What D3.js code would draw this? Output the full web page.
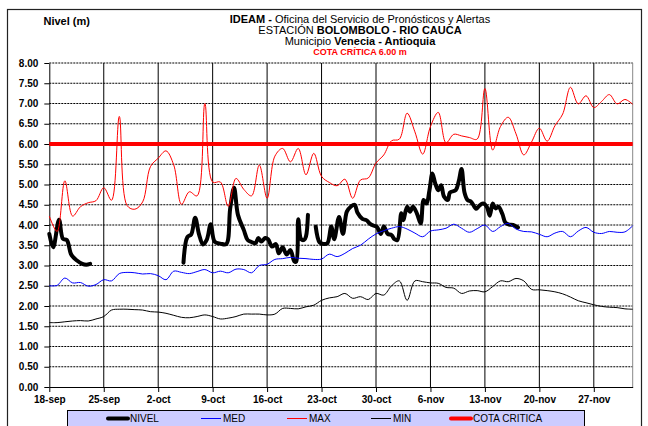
<!DOCTYPE html>
<html>
<head>
<meta charset="utf-8">
<script src="https://cdn.jsdelivr.net/npm/d3@7"></script>
<style>
  body { margin: 0; background: #fff; }
  svg { display: block; font-family: 'Liberation Sans', Arial, sans-serif; }
</style>
</head>
<body>
<script>
// daily series, one value per day starting at fechaInicio
let fechaInicio = '2011-09-18'
let fechaFin = '2011-12-02'

let maxValores = [
  4.22, 3.84, 5.09, 4.22, 4.45, 4.55, 4.60, 4.92, 4.61, 6.68,
  4.48, 4.39, 4.57, 5.44, 5.65, 5.83, 5.48, 4.51, 4.82, 4.72,
  7.00, 5.06, 5.06, 4.46, 5.15, 4.88, 4.72, 5.48, 4.66, 5.70,
  5.89, 5.56, 5.89, 5.24, 5.77, 5.20, 5.05, 4.97, 5.13, 4.66,
  5.11, 5.16, 5.53, 5.73, 6.08, 6.12, 6.76, 6.30, 5.75, 6.43,
  6.78, 6.03, 6.24, 6.20, 6.16, 6.12, 7.37, 5.85, 6.43, 6.66,
  6.25, 5.73, 6.05, 6.39, 6.07, 6.45, 6.74, 7.40, 6.99, 7.19,
  6.90, 7.05, 7.22, 6.99, 7.10, 6.98
]

let medValores = [
  2.50, 2.51, 2.69, 2.57, 2.58, 2.49, 2.53, 2.65, 2.62, 2.80,
  2.83, 2.82, 2.79, 2.80, 2.75, 2.65, 2.86, 2.83, 2.80, 2.85,
  2.90, 2.82, 2.86, 2.82, 2.91, 2.90, 2.82, 3.00, 3.03, 3.15,
  3.17, 3.20, 3.18, 3.17, 3.15, 3.16, 3.28, 3.22, 3.30, 3.42,
  3.50, 3.65, 3.78, 3.86, 3.92, 3.96, 3.90, 3.80, 3.71, 3.85,
  3.88, 3.92, 4.02, 3.92, 3.82, 3.91, 4.00, 3.84, 3.96, 4.04,
  3.90, 3.84, 3.83, 3.77, 3.71, 3.80, 3.84, 3.71, 3.85, 3.94,
  3.82, 3.79, 3.84, 3.82, 3.83, 3.98
]

let minValores = [
  1.59, 1.59, 1.61, 1.63, 1.64, 1.63, 1.68, 1.74, 1.90, 1.92,
  1.92, 1.91, 1.90, 1.86, 1.85, 1.82, 1.77, 1.72, 1.71, 1.74,
  1.78, 1.74, 1.68, 1.70, 1.74, 1.80, 1.80, 1.80, 1.78, 1.80,
  1.94, 1.94, 1.93, 1.98, 2.02, 2.14, 2.20, 2.23, 2.31, 2.19,
  2.23, 2.16, 2.31, 2.27, 2.50, 2.62, 2.14, 2.62, 2.60, 2.57,
  2.56, 2.46, 2.44, 2.31, 2.37, 2.38, 2.35, 2.48, 2.62, 2.60,
  2.68, 2.62, 2.41, 2.40, 2.38, 2.35, 2.30, 2.22, 2.13, 2.08,
  2.03, 1.99, 1.97, 1.96, 1.93, 1.92
]

// NIVEL readings ('mm-dd hh'), null marks a gap
let nivelFechas = [
  '09-18 00', '09-18 12', '09-19 06', '09-19 18', '09-20 06', '09-20 18',
  '09-21 00', '09-21 12', '09-22 06', '09-22 18', '09-23 06', '09-30 00',
  '10-05 06', '10-05 18', '10-06 06', '10-06 18', '10-07 06', '10-07 18',
  '10-08 06', '10-08 18', '10-09 06', '10-10 00', '10-10 18', '10-11 06',
  '10-11 18', '10-12 06', '10-13 00', '10-13 12', '10-14 00', '10-14 12',
  '10-14 21', '10-15 06', '10-15 18', '10-16 03', '10-16 15', '10-17 03',
  '10-17 12', '10-18 00', '10-18 12', '10-19 00', '10-19 12', '10-19 18',
  '10-20 00', '10-20 09', '10-20 18', '10-21 00', '10-21 06', '10-21 18',
  '10-22 06', '10-22 18', '10-23 06', '10-23 18', '10-24 06', '10-24 15',
  '10-25 06', '10-25 18', '10-26 06', '10-26 18', '10-27 06', '10-27 15',
  '10-28 06', '10-28 18', '10-29 06', '10-29 18', '10-30 03', '10-30 15',
  '10-31 00', '10-31 12', '11-01 00', '11-01 09', '11-01 18', '11-02 06',
  '11-02 12', '11-03 00', '11-03 09', '11-03 18', '11-04 06', '11-04 18',
  '11-05 03', '11-05 12', '11-05 21', '11-06 06', '11-06 15', '11-07 00',
  '11-07 09', '11-07 18', '11-08 06', '11-08 12', '11-09 06', '11-09 15',
  '11-10 00', '11-10 09', '11-10 18', '11-11 06', '11-11 21', '11-12 06',
  '11-12 18', '11-13 06', '11-13 15', '11-14 00', '11-14 09', '11-14 18',
  '11-15 06', '11-15 15', '11-16 03', '11-16 15', '11-17 06'
]
let nivelValores = [
  3.78, 3.45, 4.13, 3.66, 3.63, 3.30,
  3.22, 3.13, 3.04, 3.02, 3.04, null,
  3.07, 3.70, 3.77, 4.18, 3.77, 3.52,
  3.64, 4.02, 3.59, 3.54, 3.53, 4.40,
  4.92, 4.25, 3.88, 3.63, 3.58, 3.55,
  3.68, 3.59, 3.68, 3.65, 3.47, 3.53,
  3.30, 3.45, 3.27, 3.38, 3.10, 3.10,
  4.14, 3.65, 3.63, 3.72, 4.25, null,
  3.96, 3.57, 3.53, 3.55, 3.96, 3.65,
  4.20, 3.78, 4.33, 4.45, 4.50, 4.30,
  4.15, 4.12, 4.03, 3.98, 3.95, 3.78,
  3.96, 3.78, 3.75, 3.65, 3.63, 4.29,
  4.12, 4.45, 4.33, 4.45, 4.29, 4.04,
  4.62, 4.53, 4.86, 5.27, 5.02, 4.86,
  4.98, 4.70, 4.62, 4.80, 4.86, 5.07,
  5.38, 4.80, 4.62, 4.57, 4.40, 4.47,
  4.53, 4.45, 4.23, 4.53, 4.41, 4.45,
  4.27, 4.06, 4.01, 4.00, 3.94
]

let cotaCritica = 6.00

let yTicks = [0, 0.5, 1, 1.5, 2, 2.5, 3, 3.5, 4, 4.5, 5, 5.5, 6, 6.5, 7, 7.5, 8]
let xTicks = ['2011-09-18', '2011-09-25', '2011-10-02', '2011-10-09', '2011-10-16', '2011-10-23',
  '2011-10-30', '2011-11-06', '2011-11-13', '2011-11-20', '2011-11-27']

let leyenda = ['NIVEL', 'MED', 'MAX', 'MIN', 'COTA CRITICA']

let width = 648
let height = 426
let plotLeft = 49.3
let plotRight = 632.7
let plotTop = 63
let plotBottom = 387

let parseDia = d3.timeParse('%Y-%m-%d')
let parseHora = d3.timeParse('%Y-%m-%d %H')

let es = d3.timeFormatLocale({
  dateTime: '%x %X', date: '%d/%m/%Y', time: '%H:%M:%S', periods: ['AM', 'PM'],
  days: ['domingo', 'lunes', 'martes', 'miércoles', 'jueves', 'viernes', 'sábado'],
  shortDays: ['dom', 'lun', 'mar', 'mié', 'jue', 'vie', 'sáb'],
  months: ['enero', 'febrero', 'marzo', 'abril', 'mayo', 'junio', 'julio', 'agosto', 'septiembre', 'octubre', 'noviembre', 'diciembre'],
  shortMonths: ['ene', 'feb', 'mar', 'abr', 'may', 'jun', 'jul', 'ago', 'sep', 'oct', 'nov', 'dic']
})

let x = d3.scaleTime()
  .domain([parseDia(fechaInicio), parseDia(fechaFin)])
  .range([plotLeft, plotRight])

let y = d3.scaleLinear()
  .domain([0, 8])
  .range([plotBottom, plotTop])

let inicio = parseDia(fechaInicio)
let diario = vals => vals.map((v, i) => ({ t: d3.timeDay.offset(inicio, i), v: v }))
let nivel = nivelFechas.map((f, i) => ({ t: parseHora('2011-' + f), v: nivelValores[i] }))

let line = d3.line()
  .defined(d => d.v != null)
  .x(d => x(d.t))
  .y(d => y(d.v))
  .curve(d3.curveCatmullRom)

let svg = d3.select('body').append('svg')
  .attr('width', width)
  .attr('height', height)

// chart frame
svg.append('rect')
  .attr('x', 7.5).attr('y', 9.5)
  .attr('width', 634).attr('height', 440)
  .attr('fill', '#fff')
  .attr('stroke', '#222')
  .attr('stroke-width', 1.2)

// titles
let titulo = svg.append('g').attr('text-anchor', 'middle').attr('font-size', 11)
let t1 = titulo.append('text').attr('x', 360).attr('y', 23)
t1.append('tspan').attr('font-weight', 'bold').text('IDEAM - ')
t1.append('tspan').text('Oficina del Servicio de Pronósticos y Alertas')
let t2 = titulo.append('text').attr('x', 360).attr('y', 34)
t2.append('tspan').text('ESTACIÓN ')
t2.append('tspan').attr('font-weight', 'bold').text('BOLOMBOLO - RIO CAUCA')
let t3 = titulo.append('text').attr('x', 360).attr('y', 45)
t3.append('tspan').text('Municipio ')
t3.append('tspan').attr('font-weight', 'bold').text('Venecia - Antioquia')
titulo.append('text').attr('x', 360).attr('y', 55)
  .attr('font-size', 9).attr('font-weight', 'bold').attr('fill', '#ff0000')
  .text('COTA CRÍTICA ' + cotaCritica.toFixed(2) + ' m')

svg.append('text')
  .attr('x', 43.5).attr('y', 25)
  .attr('font-size', 11).attr('font-weight', 'bold')
  .text('Nivel (m)')

// grid
svg.append('g').selectAll('line')
  .data(yTicks.filter(d => d > 0))
  .enter().append('line')
  .attr('x1', plotLeft).attr('x2', plotRight)
  .attr('y1', d => y(d)).attr('y2', d => y(d))
  .attr('stroke', '#000')
  .attr('stroke-dasharray', '2,1')
  .attr('stroke-width', 1)

svg.append('g').selectAll('line')
  .data(xTicks.slice(1).map(parseDia))
  .enter().append('line')
  .attr('x1', d => x(d)).attr('x2', d => x(d))
  .attr('y1', plotTop).attr('y2', plotBottom)
  .attr('stroke', '#000')
  .attr('stroke-width', 1)

svg.append('line')
  .attr('x1', plotRight).attr('x2', plotRight)
  .attr('y1', plotTop).attr('y2', plotBottom)
  .attr('stroke', '#888')

// axes
let ejeX = svg.append('g')
  .attr('transform', 'translate(0,' + plotBottom + ')')
  .call(d3.axisBottom(x)
    .tickValues(xTicks.map(parseDia))
    .tickFormat(es.format('%-d-%b'))
    .tickSize(5)
    .tickSizeOuter(0)
    .tickPadding(4))
ejeX.selectAll('text').attr('font-size', 10).attr('font-weight', 'bold').attr('font-family', null)
ejeX.select('.domain').attr('stroke', '#000')

let ejeY = svg.append('g')
  .attr('transform', 'translate(' + plotLeft + ',0)')
  .call(d3.axisLeft(y)
    .tickValues(yTicks)
    .tickFormat(d3.format('.2f'))
    .tickSize(5)
    .tickSizeOuter(0)
    .tickPadding(6))
ejeY.selectAll('text').attr('font-size', 10).attr('font-weight', 'bold').attr('font-family', null)

// series (Excel order: later ones on top)
svg.append('path').datum(nivel)
  .attr('d', line).attr('fill', 'none')
  .attr('stroke', '#000').attr('stroke-width', 4)
  .attr('stroke-linejoin', 'round').attr('stroke-linecap', 'round')

svg.append('path').datum(diario(medValores))
  .attr('d', line).attr('fill', 'none')
  .attr('stroke', '#0000ff').attr('stroke-width', 1)

svg.append('path').datum(diario(maxValores))
  .attr('d', line).attr('fill', 'none')
  .attr('stroke', '#ff0000').attr('stroke-width', 1)

svg.append('path').datum(diario(minValores))
  .attr('d', line).attr('fill', 'none')
  .attr('stroke', '#000').attr('stroke-width', 1)

svg.append('line')
  .attr('x1', plotLeft).attr('x2', plotRight)
  .attr('y1', y(cotaCritica)).attr('y2', y(cotaCritica))
  .attr('stroke', '#ff0000').attr('stroke-width', 4)

// legend
let estilos = [
  { color: '#000', ancho: 4, x: 108 },
  { color: '#0000ff', ancho: 1, x: 201 },
  { color: '#ff0000', ancho: 1, x: 287 },
  { color: '#000', ancho: 1, x: 371 },
  { color: '#ff0000', ancho: 4, x: 451 }
]

let ley = svg.append('g')
ley.append('rect')
  .attr('x', 67.5).attr('y', 410.5)
  .attr('width', 517).attr('height', 20)
  .attr('fill', '#ccccff')
  .attr('stroke', '#000')

let item = ley.selectAll('.item')
  .data(leyenda)
  .enter().append('g')
  .attr('class', 'item')
  .attr('transform', (d, i) => 'translate(' + estilos[i].x + ',418.5)')

item.append('line')
  .attr('x1', 0).attr('x2', 20)
  .attr('stroke', (d, i) => estilos[i].color)
  .attr('stroke-width', (d, i) => estilos[i].ancho)
  .attr('stroke-linecap', (d, i) => estilos[i].ancho > 1 ? 'round' : 'butt')

item.append('text')
  .attr('x', 22).attr('y', 3.5)
  .attr('font-size', 10)
  .text(d => d)
</script>
</body>
</html>
